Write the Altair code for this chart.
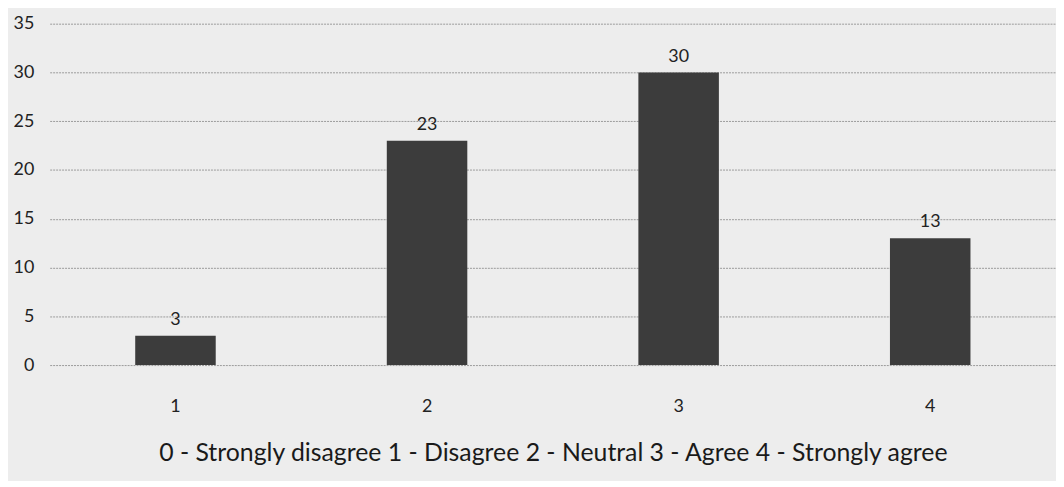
import altair as alt
import pandas as pd

categories = ["1", "2", "3", "4"]
counts = [3, 23, 30, 13]
y_ticks = [0, 5, 10, 15, 20, 25, 30, 35]
x_title = "0 - Strongly disagree 1 - Disagree 2 - Neutral 3 - Agree 4 - Strongly agree"

df = pd.DataFrame({"cat": categories, "n": counts})

FONT = "Lato"

base = alt.Chart(df).encode(
    x=alt.X(
        "cat:N",
        sort=categories,
        scale=alt.Scale(paddingInner=0.68, paddingOuter=0.34),
        axis=alt.Axis(
            title=x_title,
            labelAngle=0,
            labelFontSize=18,
            labelPadding=33,
            labelColor="#222222",
            labelFont=FONT,
            titleFont=FONT,
            titleFontSize=25,
            titleFontWeight="normal",
            titleColor="#1a1a1a",
            titlePadding=25,
            domain=False,
            ticks=False,
        ),
    ),
    y=alt.Y(
        "n:Q",
        scale=alt.Scale(domain=[0, 35], nice=False),
        axis=alt.Axis(
            title=None,
            values=y_ticks,
            labelFontSize=18,
            labelFont=FONT,
            labelColor="#222222",
            labelPadding=16,
            domain=False,
            ticks=False,
            gridColor="#9a9a9a",
            gridWidth=1,
            gridDash=[2, 1],
        ),
    ),
)

bars = base.mark_bar(color="#3c3c3c")
labels = base.mark_text(dy=-16, fontSize=18, font=FONT, color="#222222").encode(text="n:Q")

chart = (
    (bars + labels)
    .properties(
        width=1014,
        height=344,
        padding={"left": 42, "top": 14, "right": 0, "bottom": 115},
        autosize=alt.AutoSizeParams(type="none"),
        background="#ededed",
    )
    .configure_view(stroke=None)
)

chart.save("out.html", embed_options={"renderer": "svg", "actions": False})
